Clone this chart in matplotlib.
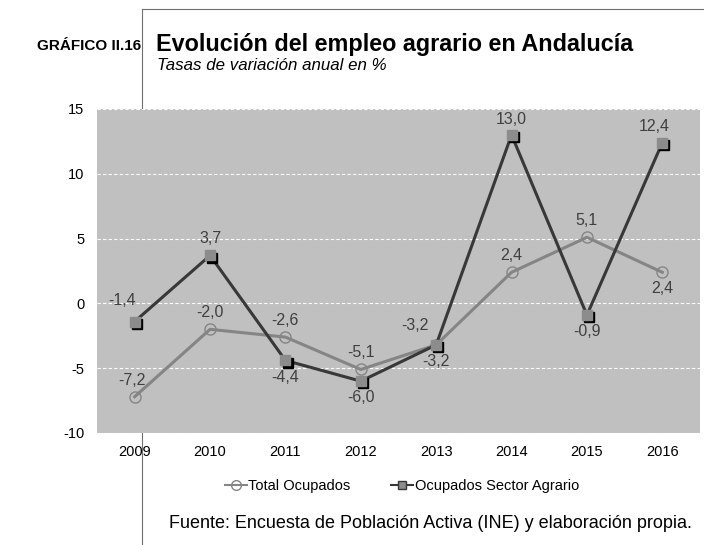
import matplotlib.pyplot as plt
import matplotlib.transforms as mtransforms
from matplotlib.lines import Line2D

years = ['2009', '2010', '2011', '2012', '2013', '2014', '2015', '2016']
total_ocupados = [-7.2, -2.0, -2.6, -5.1, -3.2, 2.4, 5.1, 2.4]
sector_agrario = [-1.4, 3.7, -4.4, -6.0, -3.2, 13.0, -0.9, 12.4]
# desplazamiento de la etiqueta (puntos)
off_total = [(-2, 12), (0, 12), (0, 12), (0, 12), (-15, 14), (0, 12), (0, 12), (0, -12)]
off_agrario = [(-9, 15), (0, 12), (0, -12), (0, -12), (0, -12), (0, 11), (0, -12), (-6, 12)]

plt.rcParams['font.family'] = ['Liberation Sans', 'DejaVu Sans']

fig = plt.figure(figsize=(7.04, 5.45), dpi=100)
W, H = 704, 545
ax = fig.add_axes([97 / W, (H - 433) / H, 603 / W, 324 / H])
ax.set_facecolor('#c0c0c0')

x = list(range(len(years)))
ax.plot(x, total_ocupados, color='#858585', lw=2.2, marker='o', ms=8,
        mfc='none', mec='#858585', mew=1, zorder=3)
shadow = mtransforms.offset_copy(ax.transData, fig=fig, x=1.5, y=-1.5, units='points')
ax.plot(x, sector_agrario, color='#383838', lw=2.2, zorder=4)
ax.plot(x, sector_agrario, ls='none', marker='s', ms=7, mfc='black', mec='black',
        transform=shadow, zorder=5)
ax.plot(x, sector_agrario, ls='none', marker='s', ms=7, mfc='#8c8c8c', mec='#8c8c8c', zorder=6)

def fmt(v):
    return f'{v:.1f}'.replace('.', ',')

for i in x:
    ax.annotate(fmt(total_ocupados[i]), (i, total_ocupados[i]),
                xytext=off_total[i], textcoords='offset points',
                ha='center', va='center', fontsize=11.5, color='#404040')
    ax.annotate(fmt(sector_agrario[i]), (i, sector_agrario[i]),
                xytext=off_agrario[i], textcoords='offset points',
                ha='center', va='center', fontsize=11.5, color='#404040')

ax.set_xlim(-0.5, len(years) - 0.5)
ax.set_ylim(-10, 15)
ax.set_yticks([-10, -5, 0, 5, 10, 15])
ax.set_yticklabels(['-10', '-5', '0', '5', '10', '15'])
ax.set_xticks(x)
ax.set_xticklabels(years)
ax.tick_params(length=0, labelsize=10.5, colors='black', pad=9)
ax.grid(axis='y', color='white', ls=(0, (3, 2)), lw=0.8)
ax.set_axisbelow(True)
for s in ax.spines.values():
    s.set_visible(False)

h1 = Line2D([], [], color='#858585', lw=1.5, marker='o', ms=7, mfc='none', mec='#858585')
h2 = Line2D([], [], color='#383838', lw=1.5, marker='s', ms=6, mfc='#8c8c8c', mec='#383838')
fig.legend([h1, h2], ['Total Ocupados', 'Ocupados Sector Agrario'], loc='center',
           bbox_to_anchor=(402 / W, 1 - 486 / H), ncol=2, frameon=False, fontsize=10.5,
           handlelength=1.5, handletextpad=0.1, columnspacing=2.8)

# marco del grafico (queda detras del area gris)
fig.add_artist(Line2D([142 / W, 142 / W], [0, 1 - 9 / H], color='#707070', lw=0.8, zorder=-1))
fig.add_artist(Line2D([142 / W, 1], [1 - 9 / H, 1 - 9 / H], color='#707070', lw=0.8, zorder=-1))

fig.text(37 / W, 1 - 46 / H, 'GRÁFICO II.16', fontsize=11, fontweight='bold', va='center')
fig.text(156 / W, 1 - 45 / H, 'Evolución del empleo agrario en Andalucía', fontsize=16.8,
         fontweight='bold', va='center')
fig.text(157 / W, 1 - 65 / H, 'Tasas de variación anual en %', fontsize=12.2,
         style='italic', va='center')
fig.text(692 / W, 1 - 524 / H, 'Fuente: Encuesta de Población Activa (INE) y elaboración propia.',
         fontsize=13, ha='right', va='center')

fig.savefig('out.png', dpi=100)
